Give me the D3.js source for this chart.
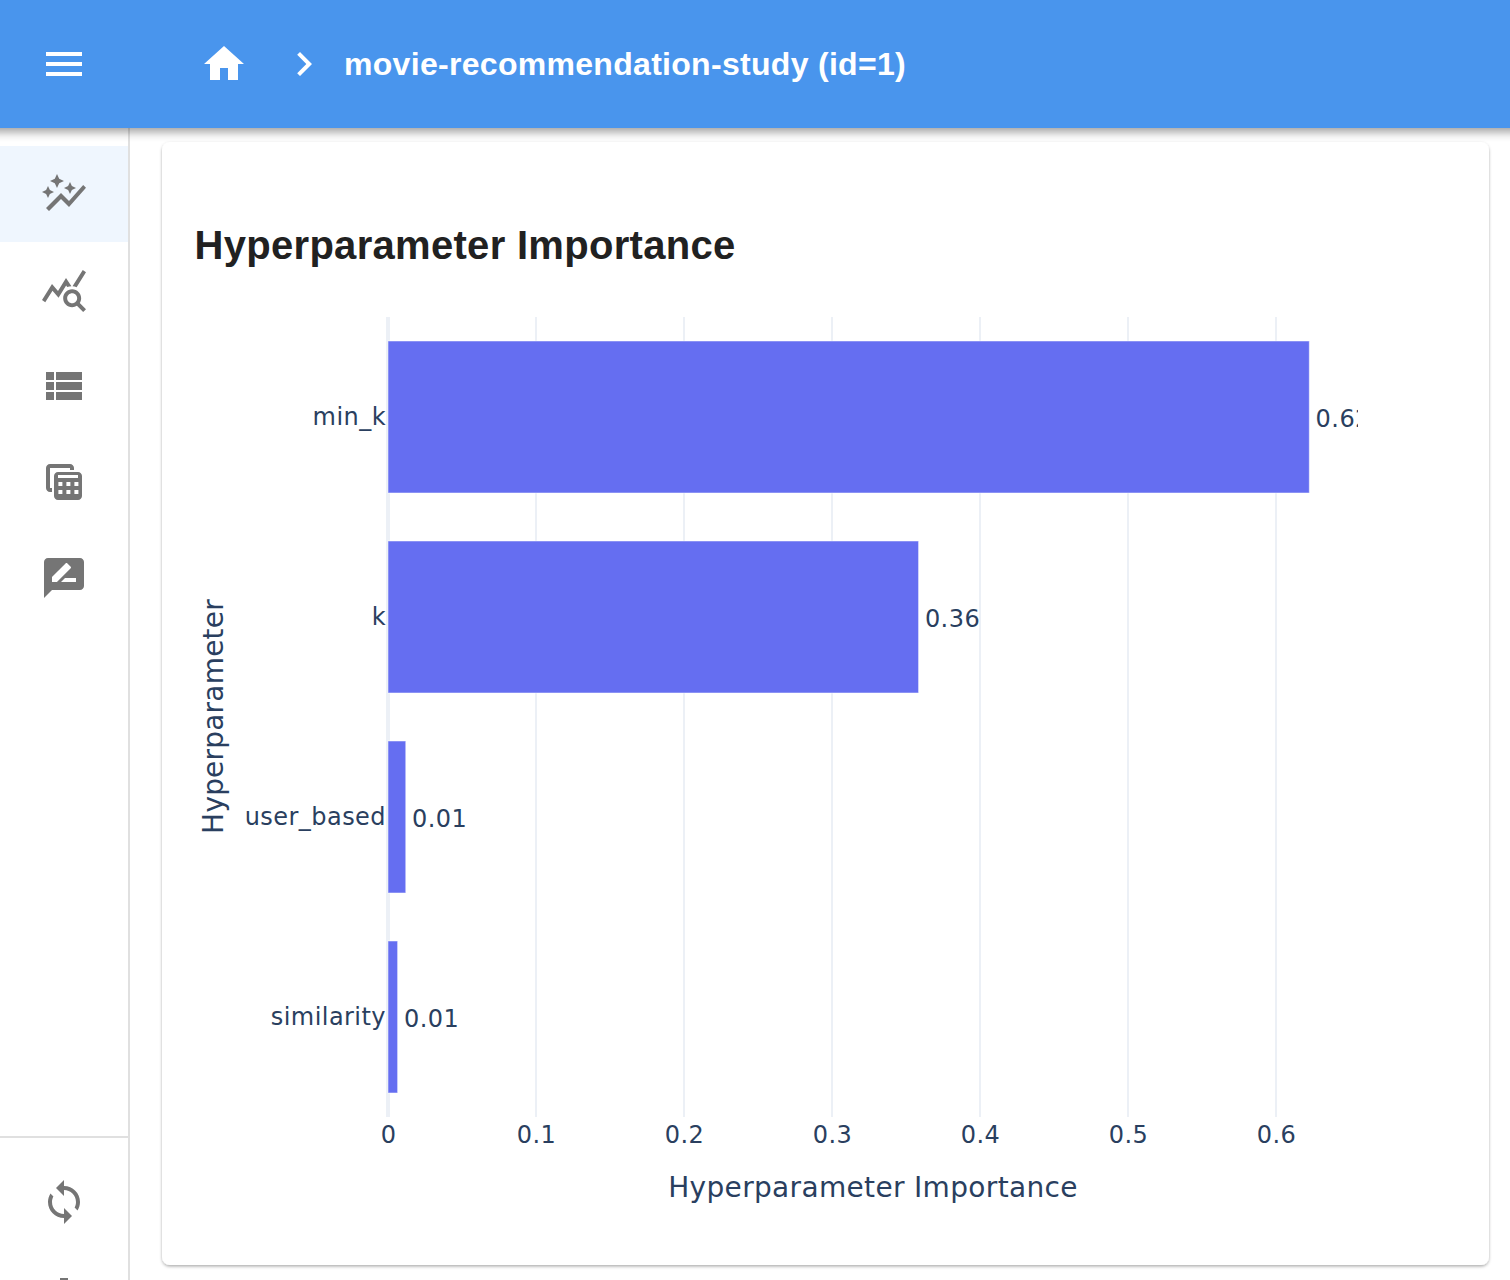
<!DOCTYPE html>
<html>
<head>
<meta charset="utf-8">
<title>Hyperparameter Importance</title>
<script src="https://cdn.jsdelivr.net/npm/d3@7"></script>
<style>
  html, body { margin: 0; padding: 0; background: #fff; overflow: hidden; }
  svg { display: block; }
  .axis path, .axis line { display: none; }
  .axis text, .bar-label { font-family: "DejaVu Sans", sans-serif; font-size: 24px; letter-spacing: 0.45px; fill: #2a3f5f; }
  .axis-title { font-family: "DejaVu Sans", sans-serif; font-size: 28px; letter-spacing: 0.33px; fill: #2a3f5f; }
</style>
</head>
<body>
<div id="chart"></div>
<script>
var categories = ["min_k", "k", "user_based", "similarity"];
var importances = [0.6225, 0.3585, 0.012, 0.0065];
var barLabels = ["0.62", "0.36", "0.01", "0.01"];
var xTicks = [0, 0.1, 0.2, 0.3, 0.4, 0.5, 0.6];

var studyTitle = "movie-recommendation-study (id=1)";
var chartTitle = "Hyperparameter Importance";
var xTitle = "Hyperparameter Importance";
var yTitle = "Hyperparameter";

var icons = {
  menu: "M3 18h18v-2H3v2zm0-5h18v-2H3v2zm0-7v2h18V6H3z",
  home: "M10 20v-6h4v6h5v-8h3L12 3 2 12h3v8z",
  chevron: "M10 6L8.59 7.41 13.17 12l-4.58 4.59L10 18l6-6z",
  autoGraph: "M14.06 9.94 12 9l2.06-.94L15 6l.94 2.06L18 9l-2.06.94L15 12l-.94-2.06zM4 14l.94-2.06L7 11l-2.06-.94L4 8l-.94 2.06L1 11l2.06.94L4 14zm4.5-5 1.09-2.41L12 5.5 9.59 4.41 8.5 2 7.41 4.41 5 5.5l2.41 1.09L8.5 9zm-4 11.5 6-6.01 4 4L23 8.93l-1.41-1.41-7.09 7.97-4-4L3 19l1.5 1.5z",
  queryStats: "M19.88 18.47c.44-.7.7-1.51.7-2.39 0-2.49-2.01-4.5-4.5-4.5s-4.5 2.01-4.5 4.5 2.01 4.5 4.49 4.5c.88 0 1.7-.26 2.39-.7L21.58 23 23 21.58l-3.12-3.11zm-3.8.11c-1.38 0-2.5-1.12-2.5-2.5s1.12-2.5 2.5-2.5 2.5 1.12 2.5 2.5-1.12 2.5-2.5 2.5zm-.36-8.5c-.74.02-1.45.18-2.1.45l-.55-.83-3.8 6.18-3.01-3.52-3.63 5.81L1 17l5-8 3 3.5L13 6l2.72 4.08zm2.59.5c-.64-.28-1.33-.45-2.05-.49L21.38 2 23 3.18l-4.69 7.4z",
  viewList: "M3 14h4v-4H3v4zm0 5h4v-4H3v4zM3 9h4V5H3v4zm5 5h13v-4H8v4zm0 5h13v-4H8v4zM8 5v4h13V5H8z",
  calcTable: "M5 2h10c1.1 0 2 .9 2 2v1H15V4H5v10h1v2H5c-1.1 0-2-.9-2-2V4c0-1.1.9-2 2-2zM9 6h10c1.1 0 2 .9 2 2v10c0 1.1-.9 2-2 2H9c-1.1 0-2-.9-2-2V8c0-1.1.9-2 2-2zM9 7.5V9h10V7.5zM9.2 11v2h2v-2zm4 0v2h2v-2zm4 0v2h2v-2zM9.2 15v2h2v-2zm4 0v2h2v-2zm4 0v2h2v-2z",
  rateReview: "M20 2H4c-1.1 0-2 .9-2 2v18l4-4h14c1.1 0 2-.9 2-2V4c0-1.1-.9-2-2-2zM6 14v-2.47l6.88-6.88c.2-.2.51-.2.71 0l1.77 1.77c.2.2.2.51 0 .71L8.47 14H6zm12 0h-7.5l2-2H18v2z",
  sync: "M12 4V1L8 5l4 4V6c3.31 0 6 2.69 6 6 0 1.01-.25 1.97-.7 2.8l1.46 1.46C19.54 15.03 20 13.57 20 12c0-4.42-3.58-8-8-8zm0 14c-3.31 0-6-2.69-6-6 0-1.01.25-1.97.7-2.8L5.24 7.74C4.46 8.97 4 10.43 4 12c0 4.42 3.58 8 8 8v3l4-4-4-4v3z"
};

var width = 1510, height = 1280;
var svg = d3.select("#chart").append("svg").attr("width", width).attr("height", height);
var defs = svg.append("defs");

function addShadow(id, dy, blur, opacity) {
  var f = defs.append("filter").attr("id", id)
    .attr("x", "-5%").attr("y", "-5%").attr("width", "110%").attr("height", "120%");
  f.append("feDropShadow").attr("dx", 0).attr("dy", dy)
    .attr("stdDeviation", blur).attr("flood-color", "#000").attr("flood-opacity", opacity);
}
addShadow("cardShadow", 1.5, 1.5, 0.32);
addShadow("barShadow", 4, 5, 0.38);

function drawIcon(name, x, y, color) {
  svg.append("path")
    .attr("d", icons[name])
    .attr("transform", "translate(" + x + "," + y + ") scale(2)")
    .attr("fill", color)
    .attr("fill-rule", "evenodd");
}

// sidebar
svg.append("rect").attr("x", 128).attr("y", 128).attr("width", 2).attr("height", height - 128).attr("fill", "#e0e0e0");
svg.append("rect").attr("x", 0).attr("y", 146).attr("width", 128).attr("height", 96).attr("fill", "#eff6fe");
svg.append("rect").attr("x", 0).attr("y", 1136).attr("width", 128).attr("height", 2).attr("fill", "#e0e0e0");
drawIcon("autoGraph", 40, 170, "#757575");
drawIcon("queryStats", 40, 266, "#757575");
drawIcon("viewList", 40, 362, "#757575");
drawIcon("calcTable", 40, 460, "#757575");
drawIcon("rateReview", 40, 554, "#757575");
drawIcon("sync", 40, 1178, "#757575");
svg.append("rect").attr("x", 60).attr("y", 1278).attr("width", 8).attr("height", 2).attr("fill", "#757575");

// card
svg.append("rect").attr("x", 162).attr("y", 142).attr("width", 1327).attr("height", 1123)
  .attr("rx", 8).attr("fill", "#fff").attr("filter", "url(#cardShadow)");

// header
svg.append("rect").attr("x", -20).attr("y", -20).attr("width", width + 40).attr("height", 148)
  .attr("fill", "#4a95ed").attr("filter", "url(#barShadow)");
drawIcon("menu", 40, 40, "#fff");
drawIcon("home", 200, 40, "#fff");
drawIcon("chevron", 280, 40, "#fff");
svg.append("text").attr("x", 344).attr("y", 75)
  .style("font-family", "'Liberation Sans', sans-serif").style("font-weight", "bold")
  .style("font-size", "32px").style("letter-spacing", "0.3px").attr("fill", "#fff").text(studyTitle);

svg.append("text").attr("x", 194.5).attr("y", 259)
  .style("font-family", "'Liberation Sans', sans-serif").style("font-weight", "bold")
  .style("font-size", "40px").style("letter-spacing", "0.3px").attr("fill", "#212121").text(chartTitle);

// chart
var plot = { left: 388, right: 1358, top: 317, bottom: 1117 };

var x = d3.scaleLinear().domain([0, 0.655]).range([plot.left, plot.left + 0.655 * 1480]);
var y = d3.scaleBand().domain(categories).range([plot.top, plot.bottom])
  .paddingInner(0.24).paddingOuter(0.12);

defs.append("clipPath").attr("id", "plotClip").append("rect")
  .attr("x", plot.left).attr("y", plot.top)
  .attr("width", plot.right - plot.left).attr("height", plot.bottom - plot.top);

svg.append("g").selectAll("line").data(xTicks).join("line")
  .attr("x1", d => x(d)).attr("x2", d => x(d))
  .attr("y1", plot.top).attr("y2", plot.bottom)
  .attr("stroke", "#ecf0f6")
  .attr("stroke-width", d => d === 0 ? 4 : 2);

var barGroup = svg.append("g").attr("clip-path", "url(#plotClip)");

barGroup.selectAll("rect").data(importances).join("rect")
  .attr("x", x(0))
  .attr("y", (d, i) => y(categories[i]))
  .attr("width", d => x(d) - x(0))
  .attr("height", y.bandwidth())
  .attr("fill", "#656ef1")
  .attr("stroke", "#fff")
  .attr("stroke-opacity", 0.5)
  .attr("stroke-width", 1);

barGroup.selectAll("text").data(importances).join("text")
  .attr("class", "bar-label")
  .attr("x", d => x(d) + 6.3)
  .attr("y", (d, i) => y(categories[i]) + y.bandwidth() / 2 + 10)
  .text((d, i) => barLabels[i]);

svg.append("g").attr("class", "axis")
  .attr("transform", "translate(0," + plot.bottom + ")")
  .call(d3.axisBottom(x).tickValues(xTicks).tickSize(0).tickPadding(9).tickFormat(d => d));

svg.append("g").attr("class", "axis")
  .attr("transform", "translate(386,0)")
  .call(d3.axisLeft(y).tickSize(0).tickPadding(0));

svg.selectAll(".axis").attr("font-family", null).attr("font-size", null);

svg.append("text").attr("class", "axis-title")
  .attr("x", 873).attr("y", 1197).attr("text-anchor", "middle").text(xTitle);

svg.append("text").attr("class", "axis-title")
  .attr("transform", "translate(222.5,716.5) rotate(-90)")
  .style("letter-spacing", "0.2px")
  .attr("text-anchor", "middle").text(yTitle);
</script>
</body>
</html>
